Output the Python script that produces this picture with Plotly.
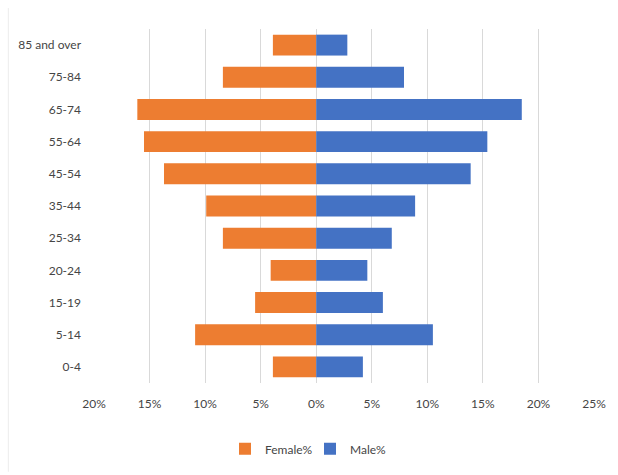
import plotly.graph_objects as go

# Age bands, bottom to top
age_groups = ["0-4", "5-14", "15-19", "20-24", "25-34", "35-44",
              "45-54", "55-64", "65-74", "75-84", "85 and over"]

# Share of population (%) in each band
female_pct = [3.9, 10.9, 5.5, 4.1, 8.4, 9.9, 13.7, 15.5, 16.1, 8.4, 3.9]
male_pct = [4.2, 10.5, 6.0, 4.6, 6.8, 8.9, 13.9, 15.4, 18.5, 7.9, 2.8]

# Horizontal axis ticks (female side drawn to the left of zero)
x_tick_values = [-20, -15, -10, -5, 0, 5, 10, 15, 20, 25]
x_tick_labels = ["20%", "15%", "10%", "5%", "0%", "5%", "10%", "15%", "20%", "25%"]

FONT = "Lato, 'Open Sans', sans-serif"
TEXT_COLOR = "#454545"
GRID_COLOR = "#d9d9d9"

fig = go.Figure()
fig.add_trace(go.Bar(
    name="Female%",
    y=age_groups,
    x=[-v for v in female_pct],
    orientation="h",
    marker=dict(color="#ED7D31", line=dict(width=0)),
))
fig.add_trace(go.Bar(
    name="Male%",
    y=age_groups,
    x=male_pct,
    orientation="h",
    marker=dict(color="#4472C4", line=dict(width=0)),
))

fig.update_layout(
    width=618,
    height=475,
    margin=dict(l=94, r=22, t=29, b=91),
    barmode="relative",
    bargap=0.35,
    plot_bgcolor="white",
    paper_bgcolor="white",
    font=dict(family=FONT, size=12, color=TEXT_COLOR),
    showlegend=True,
    legend=dict(
        orientation="h",
        x=0.432,
        xanchor="center",
        y=-0.186,
        yanchor="middle",
        font=dict(family=FONT, size=12, color=TEXT_COLOR),
        itemwidth=30,
        entrywidth=40,
        entrywidthmode="pixels",
        traceorder="normal",
    ),
    shapes=[
        dict(type="line", xref="paper", yref="paper",
             x0=-86 / 502, x1=-86 / 502, y0=-89 / 355, y1=1 + 21 / 355,
             line=dict(color="#ececec", width=1)),
    ],
)

fig.update_xaxes(
    range=[-20, 25],
    tickvals=x_tick_values,
    ticktext=x_tick_labels,
    showgrid=True,
    gridcolor=GRID_COLOR,
    gridwidth=1,
    zeroline=False,
    showline=False,
    ticks="",
    ticklabelstandoff=12,
    tickfont=dict(family=FONT, size=12, color=TEXT_COLOR),
    fixedrange=True,
)
fig.update_yaxes(
    categoryorder="array",
    categoryarray=age_groups,
    showgrid=False,
    zeroline=False,
    showline=False,
    ticks="",
    ticklabelstandoff=12,
    tickfont=dict(family=FONT, size=12, color=TEXT_COLOR),
    fixedrange=True,
)

fig.write_html("out.html")
